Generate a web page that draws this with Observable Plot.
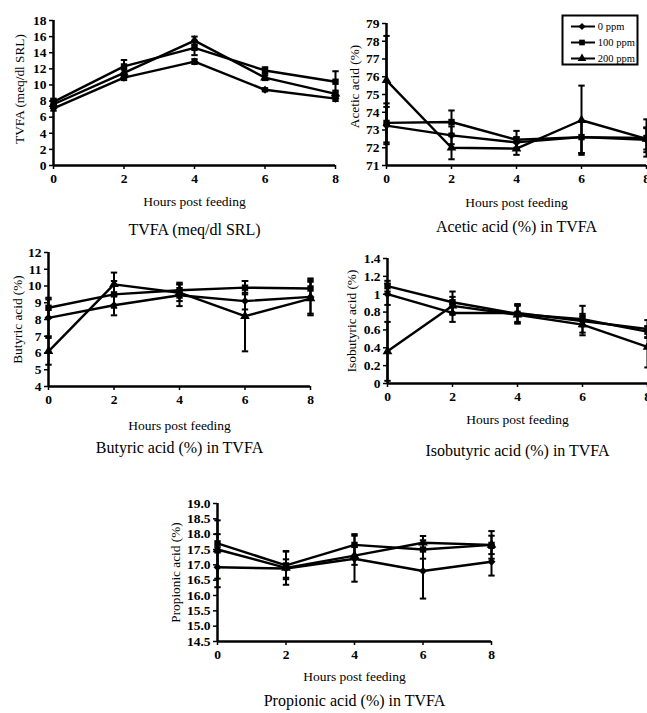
<!DOCTYPE html>
<html><head><meta charset="utf-8">
<script src="https://cdn.jsdelivr.net/npm/d3@7"></script>
<script src="https://cdn.jsdelivr.net/npm/@observablehq/plot@0.6"></script>
<style>
html,body{margin:0;padding:0;background:#fff;}
#root{position:relative;width:647px;height:713px;overflow:hidden;background:#fff;font-family:"Liberation Serif",serif;}
#root > div{position:absolute;}
</style></head><body><div id="root"></div>
<script>
const hours = [0, 2, 4, 6, 8];
const series = ["0 ppm", "100 ppm", "200 ppm"];

// TVFA (meq/dl SRL)
const tvfa0 = [7.1, 10.9, 12.9, 9.4, 8.3];
const tvfa100 = [7.9, 12.3, 14.6, 11.8, 10.4];
const tvfa200 = [7.6, 11.5, 15.5, 10.9, 8.9];
const tvfaErr0 = [0.3, 0.3, 0.3, 0.2, 0.3];
const tvfaErr100 = [0.4, 0.8, 0.9, 0.4, 1.3];
const tvfaErr200 = [0.4, 0.4, 0.5, 0.3, 0.4];
const tvfaTicks = [0, 2, 4, 6, 8, 10, 12, 14, 16, 18];

// Acetic acid (%)
const ac0 = [73.25, 72.7, 72.3, 72.6, 72.45];
const ac100 = [73.4, 73.45, 72.45, 72.6, 72.55];
const ac200 = [75.8, 72.0, 71.95, 73.55, 72.5];
const acErr0 = [1.05, 0.5, 0.3, 0.9, 0.7];
const acErr100 = [1.1, 0.65, 0.5, 0.9, 1.05];
const acErr200 = [2.5, 0.65, 0.35, 1.95, 0.6];
const acTicks = [71, 72, 73, 74, 75, 76, 77, 78, 79];

// Butyric acid (%)
const bu0 = [8.1, 8.85, 9.45, 9.1, 9.35];
const bu100 = [8.7, 9.5, 9.75, 9.9, 9.85];
const bu200 = [6.1, 10.1, 9.6, 8.2, 9.25];
const buErr0 = [1.1, 0.6, 0.65, 0.5, 1.0];
const buErr100 = [0.6, 0.8, 0.45, 0.4, 0.6];
const buErr200 = [0.8, 0.7, 0.5, 2.1, 1.0];
const buTicks = [4, 5, 6, 7, 8, 9, 10, 11, 12];

// Isobutyric acid (%)
const iso0 = [1.0, 0.79, 0.79, 0.70, 0.61];
const iso100 = [1.09, 0.91, 0.78, 0.72, 0.58];
const iso200 = [0.36, 0.87, 0.77, 0.66, 0.41];
const isoErr0 = [0.12, 0.1, 0.1, 0.06, 0.1];
const isoErr100 = [0.06, 0.12, 0.1, 0.15, 0.06];
const isoErr200 = [0.33, 0.1, 0.1, 0.12, 0.23];
const isoTicks = [0, 0.2, 0.4, 0.6, 0.8, 1.0, 1.2, 1.4];

// Propionic acid (%)
const pr0 = [16.92, 16.88, 17.2, 16.8, 17.1];
const pr100 = [17.7, 16.98, 17.65, 17.5, 17.65];
const pr200 = [17.5, 16.9, 17.3, 17.72, 17.65];
const prErr0 = [0.65, 0.3, 0.75, 0.9, 0.45];
const prErr100 = [0.3, 0.45, 0.35, 0.3, 0.45];
const prErr200 = [0.95, 0.55, 0.3, 0.22, 0.3];
const prTicks = [14.5, 15.0, 15.5, 16.0, 16.5, 17.0, 17.5, 18.0, 18.5, 19.0];

function rows(vals, errs) {
  const out = [];
  series.forEach((s, k) => hours.forEach((h, i) => out.push({s, h, v: vals[k][i], e: errs[k][i]})));
  return out;
}

const capSymbol = {draw(ctx, size) { const w = Math.sqrt(size / Math.PI); ctx.moveTo(-w, 0); ctx.lineTo(w, 0); }};
const FONT = "Liberation Serif";

function panel(cfg) {
  const data = rows(cfg.vals, cfg.errs);
  const ymin = cfg.ticks[0], ymax = cfg.ticks[cfg.ticks.length - 1];
  return Plot.plot({
    width: cfg.width, height: cfg.height,
    marginLeft: cfg.ml, marginTop: cfg.mt, marginRight: 12, marginBottom: cfg.mb,
    style: {background: "transparent", fontFamily: FONT, overflow: "visible", maxWidth: "none", color: "#000"},
    x: {domain: [0, 8]},
    y: {domain: [ymin, ymax]},
    symbol: {domain: series, range: ["diamond2", "square", "triangle"]},
    marks: [
      Plot.axisX({ticks: hours, tickSize: 4, tickPadding: 4, fontWeight: "bold", fontSize: 13.5, label: null, strokeWidth: 1.5}),
      Plot.axisY({ticks: cfg.ticks, tickSize: 4, tickPadding: 3, fontWeight: "bold", fontSize: 13.5, label: null, strokeWidth: 1.5, tickFormat: cfg.fmt}),
      Plot.ruleY([ymin], {stroke: "black", strokeWidth: 2.5}),
      Plot.ruleX([0], {stroke: "black", strokeWidth: 2.5}),
      Plot.ruleX(data, {x: "h", y1: d => d.v - d.e, y2: d => d.v + d.e, stroke: "black", strokeWidth: 2}),
      Plot.dot(data, {x: "h", y: d => d.v + d.e, symbol: capSymbol, r: 3.2, stroke: "black", strokeWidth: 2}),
      Plot.dot(data, {x: "h", y: d => d.v - d.e, symbol: capSymbol, r: 3.2, stroke: "black", strokeWidth: 2}),
      Plot.line(data, {x: "h", y: "v", z: "s", stroke: "black", strokeWidth: 2.4}),
      Plot.dot(data, {x: "h", y: "v", symbol: "s", fill: "black", stroke: "none", r: 3.6}),
      Plot.text([cfg.ylabel], {text: d => d, frameAnchor: "left", textAnchor: "middle", lineAnchor: "middle", dx: cfg.ydx, dy: cfg.ydy || 0, rotate: -90, fontSize: 13.3, fill: "black"}),
      Plot.text(["Hours post feeding"], {text: d => d, frameAnchor: "bottom", lineAnchor: "middle", dy: cfg.xdy, fontSize: 13.5, fill: "black"}),
      Plot.text([cfg.title], {text: d => d, frameAnchor: "bottom", lineAnchor: "middle", dy: cfg.tdy, fontSize: 16, fill: "black"})
    ]
  });
}

function place(node, left, top) {
  const div = document.createElement("div");
  div.style.left = left + "px";
  div.style.top = top + "px";
  div.appendChild(node);
  document.getElementById("root").appendChild(div);
}

place(panel({vals: [tvfa0, tvfa100, tvfa200], errs: [tvfaErr0, tvfaErr100, tvfaErr200], ticks: tvfaTicks, fmt: d => d,
  width: 347, height: 245, ml: 53, mt: 20, mb: 80, ylabel: "TVFA (meq/dl SRL)", ydx: -34, ydy: -4, xdy: 36, tdy: 64,
  title: "TVFA (meq/dl SRL)"}), 0, 0);

place(panel({vals: [ac0, ac100, ac200], errs: [acErr0, acErr100, acErr200], ticks: acTicks, fmt: d => d,
  width: 358, height: 245, ml: 86, mt: 23, mb: 80, ylabel: "Acetic acid (%)", ydx: -32, ydy: -8, xdy: 37, tdy: 61,
  title: "Acetic acid (%) in TVFA"}), 300, 0);

place(panel({vals: [bu0, bu100, bu200], errs: [buErr0, buErr100, buErr200], ticks: buTicks, fmt: d => d,
  width: 322, height: 226, ml: 48, mt: 12, mb: 80, ylabel: "Butyric acid (%)", ydx: -31, xdy: 39, tdy: 61,
  title: "Butyric acid (%) in TVFA"}), 0, 240);

place(panel({vals: [iso0, iso100, iso200], errs: [isoErr0, isoErr100, isoErr200], ticks: isoTicks, fmt: d => String(+d.toFixed(1)),
  width: 359, height: 223, ml: 87, mt: 18, mb: 80, ylabel: "Isobutyric acid (%)", ydx: -36, xdy: 36, tdy: 67,
  title: "Isobutyric acid (%) in TVFA"}), 300, 240);

place(panel({vals: [pr0, pr100, pr200], errs: [prErr0, prErr100, prErr200], ticks: prTicks, fmt: d3.format(".1f"),
  width: 373, height: 253, ml: 87, mt: 43, mb: 72, ylabel: "Propionic acid (%)", ydx: -42, xdy: 35, tdy: 59,
  title: "Propionic acid (%) in TVFA"}), 130, 460);

// legend
const legend = Plot.plot({
  width: 75, height: 49, margin: 0,
  style: {background: "white", fontFamily: FONT, overflow: "visible", maxWidth: "none", color: "#000"},
  x: {domain: [0, 1], axis: null},
  y: {domain: series, type: "point", padding: 0, range: [10.7, 42.7], axis: null},
  symbol: {domain: series, range: ["diamond2", "square", "triangle"]},
  marks: [
    Plot.frame({stroke: "black", strokeWidth: 2}),
    Plot.ruleY(series, {y: d => d, x1: 0.12, x2: 0.44, stroke: "black", strokeWidth: 2}),
    Plot.dot(series, {x: 0.26, y: d => d, symbol: d => d, fill: "black", r: 3.2}),
    Plot.text(series, {x: 0.47, y: d => d, text: d => d, textAnchor: "start", fontSize: 10.5, fill: "black"})
  ]
});
place(legend, 562, 15);
</script></body></html>
